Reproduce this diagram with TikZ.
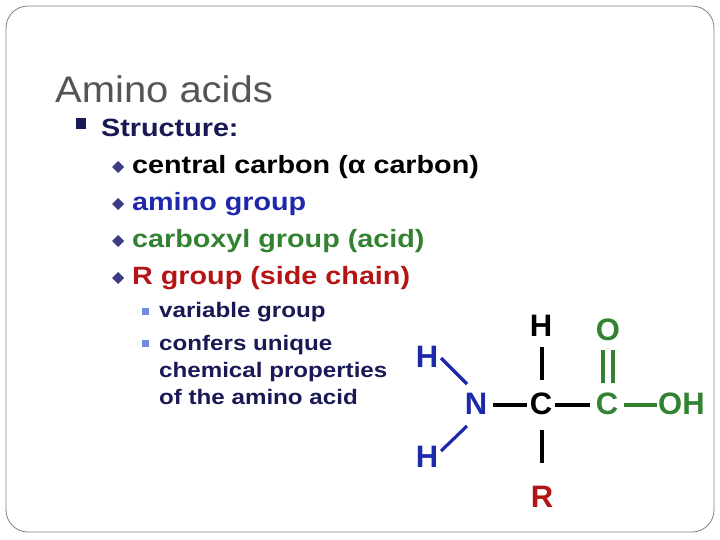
\documentclass[tikz,border=0pt]{standalone}
\usepackage{fontspec}
\setmainfont{Liberation Sans}
\newfontfamily\widesans[FakeStretch=1.15]{Liberation Sans}
\begin{document}
\begin{tikzpicture}[x=1pt,y=-1pt,
  ttl/.style={anchor=west,inner sep=0pt,text=titlegray,font=\fontsize{37}{42}\selectfont\addfontfeature{FakeStretch=1.08}},
  lvl1/.style={anchor=west,inner sep=0pt,font=\widesans\bfseries\fontsize{25}{30}\selectfont},
  lvl2/.style={anchor=west,inner sep=0pt,text=navy,font=\widesans\bfseries\fontsize{21}{26}\selectfont,align=left},
  atom/.style={inner sep=0pt,font=\bfseries\fontsize{31}{34}\selectfont},
  bond/.style={line width=3.2pt}]
\definecolor{titlegray}{RGB}{85,85,85}
\definecolor{navy}{RGB}{25,25,85}
\definecolor{bulletblue}{RGB}{60,60,130}
\definecolor{amblue}{RGB}{30,40,170}
\definecolor{acgreen}{RGB}{50,130,50}
\definecolor{rred}{RGB}{180,20,20}
\definecolor{lightsq}{RGB}{110,140,220}
\useasboundingbox (0,0) rectangle (720,540);
\draw[gray,line width=0.8pt,rounded corners=22] (6,6) rectangle (714,532);
\node[ttl] (title) at (55,89) {Amino acids};
\fill[navy] (76,118) rectangle (86,129);
\node[lvl1,text=navy] (struct) at (101,128) {Structure:};
\foreach \y in {167,204,241,278}{
  \fill[bulletblue] (112,\y) -- (118,\y-6) -- (124,\y) -- (118,\y+6) -- cycle;}
\node[lvl1,text=black] (i1) at (132,167) {central carbon (α carbon)};
\node[lvl1,text=amblue] (i2) at (132,204) {amino group};
\node[lvl1,text=acgreen] (i3) at (132,241) {carboxyl group (acid)};
\node[lvl1,text=rred] (i4) at (132,278) {R group (side chain)};
\fill[lightsq] (142,308) rectangle (149,315);
\fill[lightsq] (142,340) rectangle (149,347);
\node[lvl2] (s1) at (159,312) {variable group};
\node[lvl2,anchor=north west] (s2) at (159,335) {confers unique\\[1pt]chemical properties\\[1pt]of the amino acid};
% molecule
\node[atom,text=amblue] (H1) at (427,357) {H};
\node[atom,text=amblue] (N) at (476,404) {N};
\node[atom,text=amblue] (H2) at (427,457) {H};
\node[atom] (C) at (541,404) {C};
\node[atom] (H3) at (541,326) {H};
\node[atom,text=rred] (R) at (542,497) {R};
\node[atom,text=acgreen] (C2) at (607,404) {C};
\node[atom,text=acgreen] (O) at (608,330) {O};
\node[atom,text=acgreen,anchor=west] (OH) at (658,404) {OH};
\draw[bond,amblue] (441,358) -- (467,384);
\draw[bond,amblue] (441,451) -- (467,426);
\draw[bond] (493,405) -- (527,405);
\draw[bond] (555,405) -- (590,405);
\draw[bond] (542,347) -- (542,380);
\draw[bond] (542,430) -- (542,463);
\draw[bond,acgreen] (624,405) -- (657,405);
\draw[bond,acgreen] (603,350) -- (603,383);
\draw[bond,acgreen] (613,350) -- (613,383);
\end{tikzpicture}
\end{document}
